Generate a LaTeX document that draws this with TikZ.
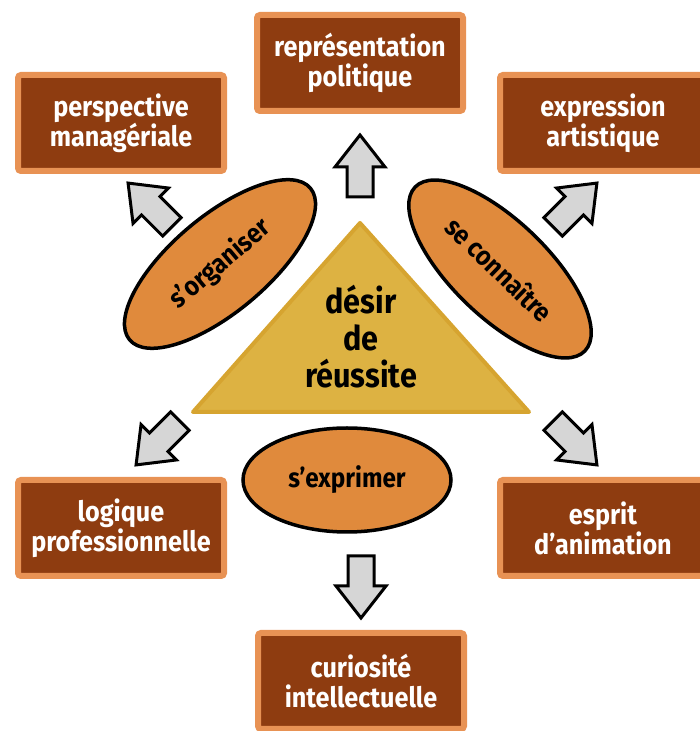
\documentclass[tikz,border=0pt]{standalone}
\usepackage{fontspec}
\setmainfont{Fira Sans}[FakeStretch=0.9]
\usetikzlibrary{shapes.geometric}
\definecolor{boxbrown}{RGB}{142,60,16}
\definecolor{boxedge}{RGB}{232,146,84}
\definecolor{ellfill}{RGB}{224,138,60}
\definecolor{trifill}{RGB}{221,178,66}
\definecolor{triedge}{RGB}{214,164,48}
\definecolor{arrfill}{RGB}{214,214,214}
\tikzset{
  goalbox/.style={draw=boxedge, line width=6pt, fill=boxbrown, rounded corners=3pt,
    minimum width=206pt, minimum height=96pt, align=center, text=white,
    font=\bfseries\fontsize{28}{30}\selectfont, inner sep=0pt},
  oval/.style={ellipse, draw=black, line width=3.5pt, fill=ellfill, inner sep=0pt,
    font=\bfseries\fontsize{27}{30}\selectfont, text=black},
  blockarrow/.style={draw=black, line width=3pt, fill=arrfill, line join=miter},
  bigarrow/.pic={\draw[blockarrow] (-31,-13) -- (-1,-13) -- (-1,-25) -- (31,0) -- (-1,25) -- (-1,13) -- (-31,13) -- cycle;}
}
\begin{document}
\begin{tikzpicture}[x=1pt,y=1pt]
\useasboundingbox (0,0) rectangle (700,731);
\clip (0,0) rectangle (700,731);
% boxes
\node[goalbox] (rep) at (360,668) {représentation\\politique};
\node[goalbox] (persp) at (121,608) {perspective\\managériale};
\node[goalbox] (expr) at (603,608) {expression\\artistique};
\node[goalbox] (logi) at (121,203) {logique\\professionnelle};
\node[goalbox] (esprit) at (603,203) {esprit\\d’animation};
\node[goalbox] (curio) at (361,50) {curiosité\\intellectuelle};
% triangle
\coordinate (tA) at (360,508);
\coordinate (tB) at (193,319);
\coordinate (tC) at (529,319);
\draw[draw=triedge, line width=4pt, fill=trifill, line join=round] (tA) -- (tB) -- (tC) -- cycle;
\node[align=center, font=\bfseries\fontsize{34}{37}\selectfont] (desir) at (361,394) {désir\\de\\réussite};
% ellipses
\node[oval, minimum width=236pt, minimum height=96pt, rotate=40] (sorg) at (220,467) {s’organiser};
\node[oval, minimum width=236pt, minimum height=96pt, rotate=-44] (secon) at (500,462) {se connaître};
\node[oval, minimum width=208pt, minimum height=104pt] (sexp) at (347,251) {s’exprimer};
% arrows
\pic[rotate=90] (aup) at (360,565) {bigarrow};
\pic[rotate=-90] (adown) at (361,144) {bigarrow};
\pic[rotate=135] (aul) at (150,526) {bigarrow};
\pic[rotate=45] (aur) at (575,526) {bigarrow};
\pic[rotate=-135] (all) at (158,288) {bigarrow};
\pic[rotate=-45] (alr) at (575,288) {bigarrow};
\end{tikzpicture}
\end{document}
